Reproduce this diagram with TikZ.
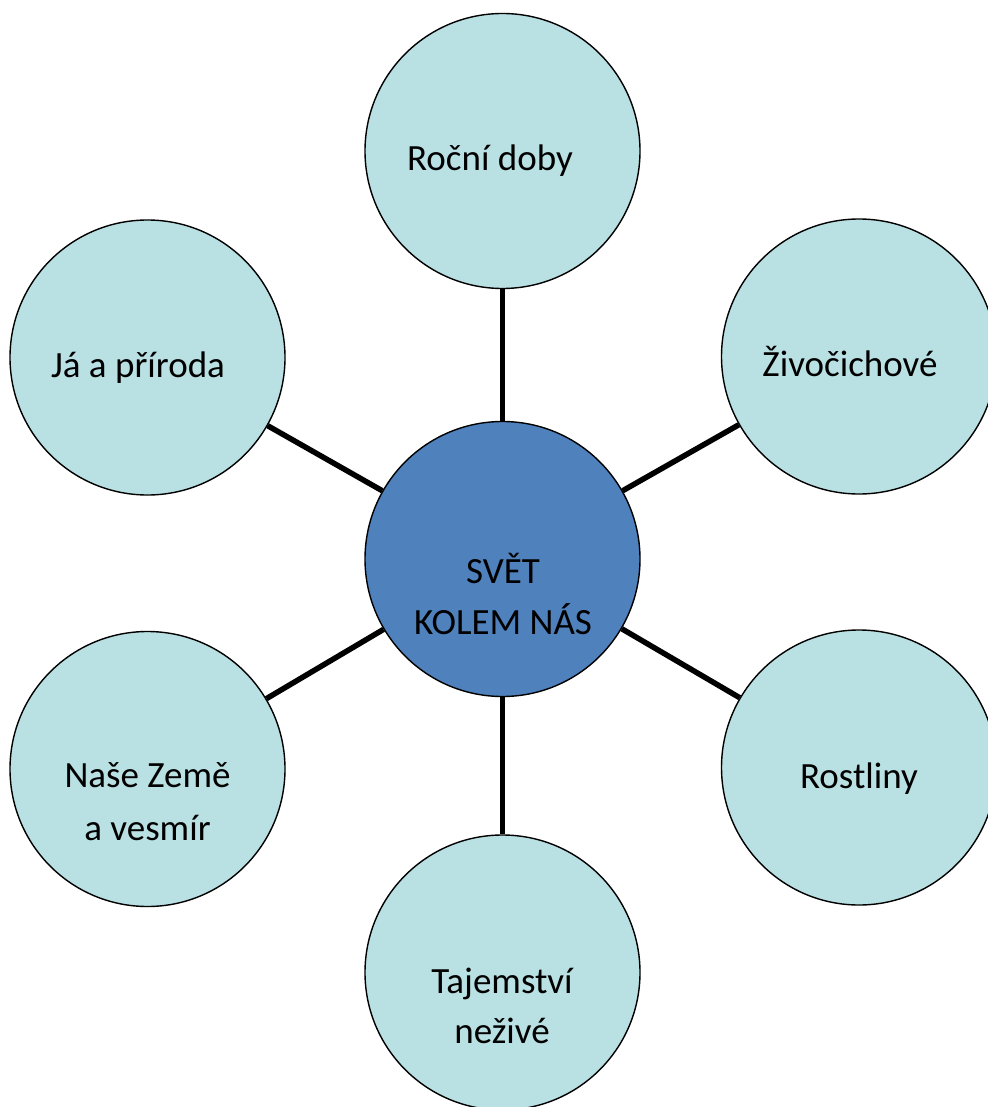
\documentclass[tikz,border=0pt]{standalone}
\usepackage{fontspec}
\setmainfont{Carlito}
\definecolor{lightaqua}{RGB}{185,224,227}
\definecolor{centerblue}{RGB}{79,129,189}
\begin{document}
\begin{tikzpicture}[x=1pt,y=-1pt,
  bubble/.style={circle,draw=black,line width=1.4pt,fill=lightaqua,minimum size=275pt,inner sep=0pt},
  hub/.style={bubble,fill=centerblue},
  txt/.style={font=\fontsize{37}{51}\selectfont,align=center,anchor=base,inner sep=0pt},
  link/.style={line width=5.5pt}]
\useasboundingbox (0,0) rectangle (987,1107);
\node[hub] (c) at (502.5,559) {};
\node[bubble] (t) at (502.5,151) {};
\node[bubble] (tl) at (147.5,357.5) {};
\node[bubble] (tr) at (859,356.5) {};
\node[bubble] (bl) at (147.5,769) {};
\node[bubble] (br) at (859,767.5) {};
\node[bubble] (b) at (502.5,972.5) {};
\draw[link] (c) -- (t);
\draw[link] (c) -- (tl);
\draw[link] (c) -- (tr);
\draw[link] (c) -- (bl);
\draw[link] (c) -- (br);
\draw[link] (c) -- (b);
\node[txt] (lt) at (490,171) {Roční doby};
\node[txt] (ltl) at (138,377) {Já a příroda};
\node[txt] (ltr) at (850,376) {Živočichové};
\node[txt] (lc1) at (503,583) {SVĚT};
\node[txt] (lc2) at (503,634) {KOLEM NÁS};
\node[txt] (lbr) at (859,788) {Rostliny};
\node[txt] (lbl1) at (147.5,787) {Naše Země};
\node[txt] (lbl2) at (147.5,840) {a vesmír};
\node[txt] (lb1) at (502,993) {Tajemství};
\node[txt] (lb2) at (502,1043) {neživé};
\end{tikzpicture}
\end{document}
